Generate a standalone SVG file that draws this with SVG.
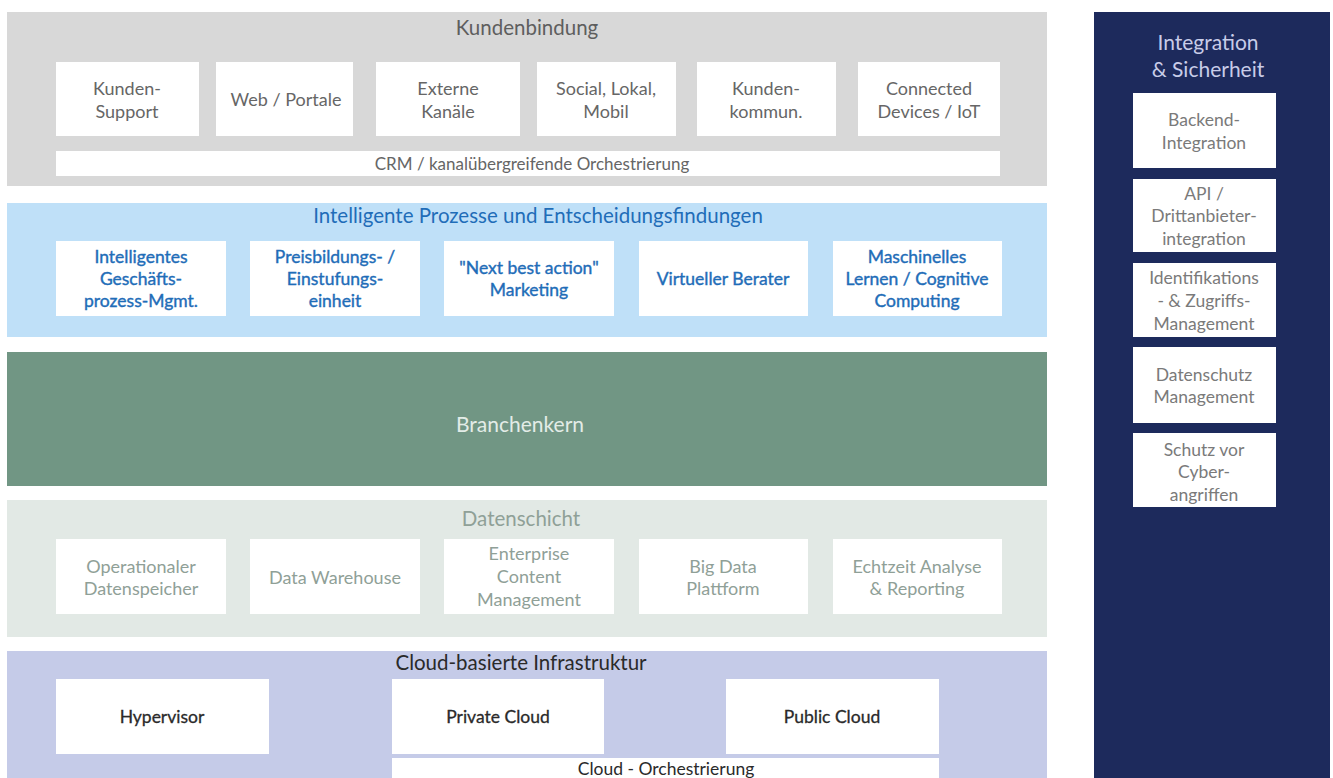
<svg xmlns="http://www.w3.org/2000/svg" width="1333" height="778" viewBox="0 0 1333 778">
<style>
text{font-family:Lato,"Open Sans","Liberation Sans",sans-serif;text-anchor:middle;dominant-baseline:central}
.box{fill:#ffffff}
.t1{font-size:18px;fill:#666666}
.t2{font-size:17.5px;fill:#1f6db8;stroke:#1f6db8;stroke-width:0.4px}
.t4{font-size:18px;fill:#8fa097}
.t5{font-size:17.5px;fill:#2a2a2a;stroke:#2a2a2a;stroke-width:0.3px}
.t6{font-size:17.5px;fill:#7a7a7a}
.h{font-size:20.5px}
</style>
<rect width="1333" height="778" fill="#ffffff"/>
<g id="kundenbindung">
<rect x="7" y="12" width="1040" height="174" fill="#d8d8d8"/>
<text x="527" y="27" class="h" fill="#5e5e5e">Kundenbindung</text>
<g id="kunden-support"><rect class="box" x="56" y="62" width="143" height="74"/><text class="t1" x="127" y="88">Kunden-</text><text class="t1" x="127" y="111">Support</text></g>
<g id="web-portale"><rect class="box" x="216" y="62" width="137" height="74"/><text class="t1" x="286" y="99">Web / Portale</text></g>
<g id="externe-kanaele"><rect class="box" x="376" y="62" width="144" height="74"/><text class="t1" x="448" y="88">Externe</text><text class="t1" x="448" y="111">Kanäle</text></g>
<g id="social"><rect class="box" x="537" y="62" width="139" height="74"/><text class="t1" x="606" y="88">Social, Lokal,</text><text class="t1" x="606" y="111">Mobil</text></g>
<g id="kundenkommun"><rect class="box" x="697" y="62" width="139" height="74"/><text class="t1" x="766" y="88">Kunden-</text><text class="t1" x="766" y="111">kommun.</text></g>
<g id="connected"><rect class="box" x="858" y="62" width="142" height="74"/><text class="t1" x="929" y="88">Connected</text><text class="t1" x="929" y="111">Devices / IoT</text></g>
<g id="crm"><rect class="box" x="56" y="151" width="944" height="25"/><text class="t1" x="532" y="163" style="font-size:17px">CRM / kanalübergreifende Orchestrierung</text></g>
</g>
<g id="intelligente-prozesse">
<rect x="7" y="203" width="1040" height="134" fill="#bfe0f8"/>
<text x="538" y="215" class="h" fill="#1f6db8">Intelligente Prozesse und Entscheidungsfindungen</text>
<g id="bpm"><rect class="box" x="56" y="241" width="170" height="75"/><text class="t2" x="141" y="256">Intelligentes</text><text class="t2" x="141" y="278">Geschäfts-</text><text class="t2" x="141" y="300">prozess-Mgmt.</text></g>
<g id="preisbildung"><rect class="box" x="250" y="241" width="170" height="75"/><text class="t2" x="335" y="256">Preisbildungs- /</text><text class="t2" x="335" y="278">Einstufungs-</text><text class="t2" x="335" y="300">einheit</text></g>
<g id="nba"><rect class="box" x="444" y="241" width="170" height="75"/><text class="t2" x="529" y="267">"Next best action"</text><text class="t2" x="529" y="289">Marketing</text></g>
<g id="berater"><rect class="box" x="639" y="241" width="169" height="75"/><text class="t2" x="723" y="278">Virtueller Berater</text></g>
<g id="ml"><rect class="box" x="833" y="241" width="169" height="75"/><text class="t2" x="917" y="256">Maschinelles</text><text class="t2" x="917" y="278">Lernen / Cognitive</text><text class="t2" x="917" y="300">Computing</text></g>
</g>
<g id="branchenkern">
<rect x="7" y="352" width="1040" height="134" fill="#719684"/>
<text x="520" y="423" class="h" fill="#e3ece7" style="font-size:21px">Branchenkern</text>
</g>
<g id="datenschicht">
<rect x="7" y="500" width="1040" height="137" fill="#e2e9e5"/>
<text x="521" y="518" class="h" fill="#8fa097">Datenschicht</text>
<g id="ods"><rect class="box" x="56" y="539" width="170" height="75"/><text class="t4" x="141" y="566">Operationaler</text><text class="t4" x="141" y="588">Datenspeicher</text></g>
<g id="dwh"><rect class="box" x="250" y="539" width="170" height="75"/><text class="t4" x="335" y="577">Data Warehouse</text></g>
<g id="ecm"><rect class="box" x="444" y="539" width="170" height="75"/><text class="t4" x="529" y="553">Enterprise</text><text class="t4" x="529" y="576">Content</text><text class="t4" x="529" y="599">Management</text></g>
<g id="bigdata"><rect class="box" x="639" y="539" width="169" height="75"/><text class="t4" x="723" y="566">Big Data</text><text class="t4" x="723" y="588">Plattform</text></g>
<g id="echtzeit"><rect class="box" x="833" y="539" width="169" height="75"/><text class="t4" x="917" y="566">Echtzeit Analyse</text><text class="t4" x="917" y="588">&amp; Reporting</text></g>
</g>
<g id="cloud">
<rect x="7" y="651" width="1040" height="127" fill="#c5cbe8"/>
<text x="521" y="662" class="h" fill="#2a2a2a">Cloud-basierte Infrastruktur</text>
<g id="hypervisor"><rect class="box" x="56" y="679" width="213" height="75"/><text class="t5" x="162" y="716">Hypervisor</text></g>
<g id="private-cloud"><rect class="box" x="392" y="679" width="212" height="75"/><text class="t5" x="498" y="716">Private Cloud</text></g>
<g id="public-cloud"><rect class="box" x="726" y="679" width="213" height="75"/><text class="t5" x="832" y="716">Public Cloud</text></g>
<g id="cloud-orch"><rect class="box" x="392" y="758" width="547" height="20"/><text class="t5" x="666" y="768" style="stroke-width:0">Cloud - Orchestrierung</text></g>
</g>
<g id="integration">
<rect x="1094" y="12" width="236" height="766" fill="#1d2a5c"/>
<text x="1208" y="41" class="h" fill="#c8cce8" style="font-size:21px">Integration</text>
<text x="1208" y="68" class="h" fill="#c8cce8" style="font-size:21px">&amp; Sicherheit</text>
<g id="backend"><rect class="box" x="1133" y="93" width="143" height="75"/><text class="t6" x="1204" y="119">Backend-</text><text class="t6" x="1204" y="142">Integration</text></g>
<g id="api"><rect class="box" x="1133" y="179" width="143" height="73"/><text class="t6" x="1204" y="193">API /</text><text class="t6" x="1204" y="215">Drittanbieter-</text><text class="t6" x="1204" y="238">integration</text></g>
<g id="iam"><rect class="box" x="1133" y="263" width="143" height="74"/><text class="t6" x="1204" y="277">Identifikations</text><text class="t6" x="1204" y="300">- &amp; Zugriffs-</text><text class="t6" x="1204" y="323">Management</text></g>
<g id="datenschutz"><rect class="box" x="1133" y="347" width="143" height="76"/><text class="t6" x="1204" y="374">Datenschutz</text><text class="t6" x="1204" y="396">Management</text></g>
<g id="cyber"><rect class="box" x="1133" y="433" width="143" height="74"/><text class="t6" x="1204" y="449">Schutz vor</text><text class="t6" x="1204" y="471">Cyber-</text><text class="t6" x="1204" y="494">angriffen</text></g>
</g>
<g id="connectors"/>
</svg>
